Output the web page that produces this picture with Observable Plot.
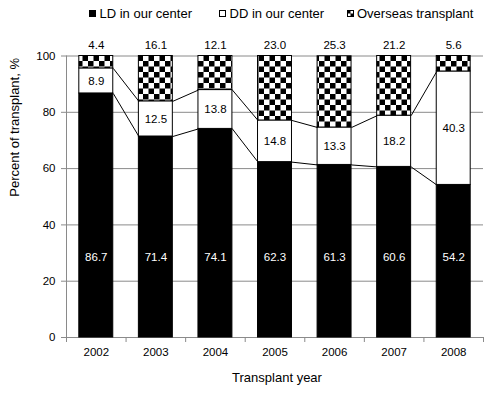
<!DOCTYPE html>
<html><head><meta charset="utf-8">
<script src="https://cdn.jsdelivr.net/npm/d3@7"></script>
<script src="https://cdn.jsdelivr.net/npm/@observablehq/plot@0.6"></script>
<style>
body{margin:0;background:#fff;font-family:"Liberation Sans",Arial,sans-serif;color:#000}
#legend{height:28px;position:relative;font-size:13px;width:497px}
.item{position:absolute;top:6px;height:15px;display:flex;align-items:center;white-space:nowrap}
.item svg{margin-right:3.5px}
#chart svg{font-family:"Liberation Sans",Arial,sans-serif;display:block}
</style></head><body>
<div id="legend"></div>
<div id="chart"></div>
<script>
const years = ["2002","2003","2004","2005","2006","2007","2008"];
const ld = [86.7, 71.4, 74.1, 62.3, 61.3, 60.6, 54.2];
const dd = [8.9, 12.5, 13.8, 14.8, 13.3, 18.2, 40.3];
const overseas = [4.4, 16.1, 12.1, 23.0, 25.3, 21.2, 5.6];
const seriesNames = ["LD in our center", "DD in our center", "Overseas transplant"];
const yTicks = [0, 20, 40, 60, 80, 100];

const idx = d3.range(years.length);
const half = 0.285;
const gray = "#8a8a8a";
const fmt = v => v.toFixed(1);

const ldRows = idx.map(i => ({i, y1: 0, y2: ld[i]}));
const ddRows = idx.map(i => ({i, y1: ld[i], y2: ld[i] + dd[i]}));
const ovRows = idx.map(i => ({i, y1: ld[i] + dd[i], y2: Math.min(100, ld[i] + dd[i] + overseas[i])}));
const pairs = idx.slice(0, -1);
const bounds = d3.range(years.length + 1).map(k => k - 0.5);

const chart = Plot.plot({
  width: 497,
  height: 365,
  marginLeft: 66,
  marginRight: 14,
  marginTop: 27.5,
  marginBottom: 56,
  x: {domain: [-0.5, years.length - 0.5], axis: null},
  y: {domain: [0, 100], axis: null},
  style: {fontSize: "11.5px", fontFamily: "Liberation Sans, Arial, sans-serif", background: "white", overflow: "visible"},
  marks: [
    Plot.ruleY(yTicks.filter(t => t > 0), {y: d => d, stroke: gray, strokeWidth: 1}),
    Plot.ruleY([0], {y: d => d, stroke: gray, strokeWidth: 1}),
    Plot.ruleX([-0.5], {x: d => d, y1: 0, y2: 100, stroke: gray, strokeWidth: 1}),
    Plot.ruleY(yTicks, {y: d => d, x1: -0.5, x2: -0.5, insetLeft: -5, stroke: gray, strokeWidth: 1}),
    Plot.ruleX(bounds, {x: d => d, y1: 0, y2: 0, insetBottom: -5, stroke: gray, strokeWidth: 1}),
    Plot.text(yTicks, {y: d => d, frameAnchor: "left", dx: -11, textAnchor: "end", text: d => String(d), fill: "black"}),
    Plot.text(idx, {x: d => d, frameAnchor: "bottom", dy: 18, text: i => years[i], fill: "black"}),
    Plot.rectY(ldRows, {x1: d => d.i - half, x2: d => d.i + half, y1: "y1", y2: "y2", fill: "black", stroke: "black", strokeWidth: 1}),
    Plot.rectY(ddRows, {x1: d => d.i - half, x2: d => d.i + half, y1: "y1", y2: "y2", fill: "white", stroke: "black", strokeWidth: 1}),
    Plot.rectY(ovRows, {x1: d => d.i - half, x2: d => d.i + half, y1: "y1", y2: "y2", fill: "url(#checker)", stroke: "black", strokeWidth: 1}),
    Plot.link(pairs, {x1: i => i + half, y1: i => ld[i], x2: i => i + 1 - half, y2: i => ld[i + 1], stroke: "black", strokeWidth: 1}),
    Plot.link(pairs, {x1: i => i + half, y1: i => ld[i] + dd[i], x2: i => i + 1 - half, y2: i => ld[i + 1] + dd[i + 1], stroke: "black", strokeWidth: 1}),
    Plot.text(idx, {x: d => d, y: 28.4, text: i => fmt(ld[i]), fill: "white"}),
    Plot.text(idx, {x: d => d, y: i => ld[i] + dd[i] / 2, text: i => fmt(dd[i]), fill: "black"}),
    Plot.text(idx, {x: d => d, y: 100, dy: -10.5, text: i => fmt(overseas[i]), fill: "black"}),
    Plot.text(["Percent of transplant, %"], {frameAnchor: "left", dx: -52, rotate: -90, text: d => d, fill: "black", fontSize: 13}),
    Plot.text(["Transplant year"], {frameAnchor: "bottom", dy: 44.5, dx: 2, text: d => d, fill: "black", fontSize: 13})
  ]
});

const svg = d3.select(chart.tagName.toLowerCase() === "svg" ? chart : chart.querySelector("svg"));
const defs = svg.insert("defs", ":first-child");
const s = 5.5;
const pat = defs.append("pattern").attr("id", "checker").attr("patternUnits", "userSpaceOnUse")
  .attr("width", 2 * s).attr("height", 2 * s);
pat.append("rect").attr("width", 2 * s).attr("height", 2 * s).attr("fill", "white");
pat.append("rect").attr("width", s).attr("height", s).attr("fill", "black");
pat.append("rect").attr("x", s).attr("y", s).attr("width", s).attr("height", s).attr("fill", "black");
document.getElementById("chart").append(chart);

// legend
const legend = d3.select("#legend");
const lx = [89, 219, 346.5];
seriesNames.forEach((name, k) => {
  const item = legend.append("div").attr("class", "item").style("left", lx[k] + "px");
  const sv = item.append("svg").attr("width", 7).attr("height", 7);
  if (k === 0) sv.append("rect").attr("x", 0.5).attr("y", 0.5).attr("width", 6).attr("height", 6).attr("fill", "black").attr("stroke", "black");
  else if (k === 1) sv.append("rect").attr("x", 0.5).attr("y", 0.5).attr("width", 6).attr("height", 6).attr("fill", "white").attr("stroke", "black");
  else {
    sv.append("rect").attr("x", 0.5).attr("y", 0.5).attr("width", 6).attr("height", 6).attr("fill", "black").attr("stroke", "black");
    sv.append("rect").attr("x", 3.5).attr("y", 1).attr("width", 2.5).attr("height", 2.5).attr("fill", "white");
    sv.append("rect").attr("x", 1).attr("y", 3.5).attr("width", 2.5).attr("height", 2.5).attr("fill", "white");
  }
  item.append("span").text(name);
});
</script>
</body></html>
